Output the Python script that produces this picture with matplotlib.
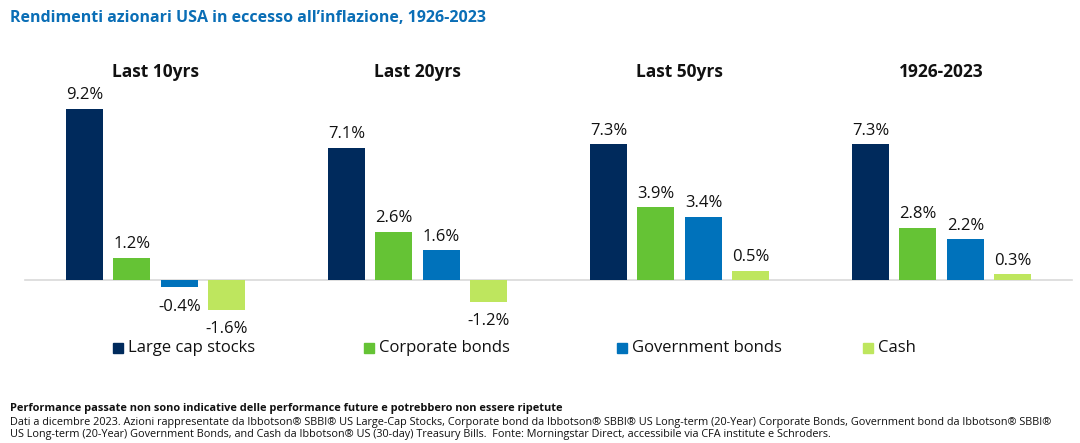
import matplotlib
matplotlib.use("Agg")
import matplotlib.pyplot as plt
from matplotlib.patches import Rectangle
import matplotlib.transforms as mtransforms

plt.rcParams['font.family'] = ['Open Sans', 'DejaVu Sans']

# Data
periods = ["Last 10yrs", "Last 20yrs", "Last 50yrs", "1926-2023"]
series = ["Large cap stocks", "Corporate bonds", "Government bonds", "Cash"]
large_cap = [9.2, 7.1, 7.3, 7.3]
corporate = [1.2, 2.6, 3.9, 2.8]
government = [-0.4, 1.6, 3.4, 2.2]
cash = [-1.6, -1.2, 0.5, 0.3]
colors = ["#002a5c", "#65c335", "#0072bb", "#bee65e"]

title = "Rendimenti azionari USA in eccesso all\u2019inflazione, 1926-2023"
note_bold = ("Performance passate non sono indicative delle performance future "
             "e potrebbero non essere ripetute")
note_lines = [
    "Dati a dicembre 2023. Azioni rappresentate da Ibbotson\u00ae SBBI\u00ae US Large-Cap Stocks, "
    "Corporate bond da Ibbotson\u00ae SBBI\u00ae US Long-term (20-Year) Corporate Bonds, "
    "Government bond da Ibbotson\u00ae SBBI\u00ae",
    "US Long-term (20-Year) Government Bonds, and Cash da Ibbotson\u00ae US (30-day) Treasury Bills.  "
    "Fonte: Morningstar Direct, accessibile via CFA institute e Schroders.",
]

W, H = 1080, 443
fig = plt.figure(figsize=(W / 100, H / 100), dpi=100)
ax = fig.add_axes([0, (H - 330) / H, 1, 240 / H])
ax.set_xlim(-155.7 / 262, (W - 155.7) / 262)
ax.set_ylim(-50 / 18.6, 190 / 18.6)
ax.axis("off")

# zero line
ax.plot([(25 - 155.7) / 262, (1072 - 155.7) / 262], [0, 0], color="#d9d9d9",
        lw=1.2, zorder=1, clip_on=False)

pitch = 47.5 / 262
width = 37 / 262
all_vals = [large_cap, corporate, government, cash]
for k, (vals, c) in enumerate(zip(all_vals, colors)):
    xs = [i + (k - 1.5) * pitch for i in range(len(periods))]
    ax.bar(xs, vals, width=width, color=c, zorder=2)
    for x, v in zip(xs, vals):
        if v >= 0:
            ax.annotate(f"{v:.1f}%", (x, v), xytext=(0, 4), textcoords="offset points",
                        ha="center", va="bottom", fontsize=12, color="#111111")
        else:
            ax.annotate(f"{v:.1f}%", (x, v), xytext=(0, -8), textcoords="offset points",
                        ha="center", va="top", fontsize=12, color="#111111")

trans = mtransforms.blended_transform_factory(ax.transData, fig.transFigure)
for i, p in enumerate(periods):
    ax.text(i, 1 - 72 / H, p, transform=trans, ha="center", va="center",
            fontsize=12.5, fontweight="bold", color="#111111")

# legend
leg_x = [113, 364, 617, 863]
for lx, name, c in zip(leg_x, series, colors):
    fig.patches.append(Rectangle((lx / W, 1 - 353 / H), 10 / W, 10 / H,
                                 transform=fig.transFigure, color=c))
    fig.text((lx + 15) / W, 1 - 348 / H, name, ha="left", va="center",
             fontsize=12, color="#111111")

fig.text(10 / W, 1 - 18 / H, title, ha="left", va="center", fontsize=11.5,
         fontweight="bold", color="#0a6eb6")
fig.text(10 / W, 1 - 409 / H, note_bold, ha="left", va="center", fontsize=7.9,
         fontweight="bold", color="#111111")
for j, line in enumerate(note_lines):
    fig.text(10 / W, 1 - (422 + 13 * j) / H, line, ha="left", va="center",
             fontsize=7.8, color="#111111")

fig.savefig("out.png", dpi=100)
